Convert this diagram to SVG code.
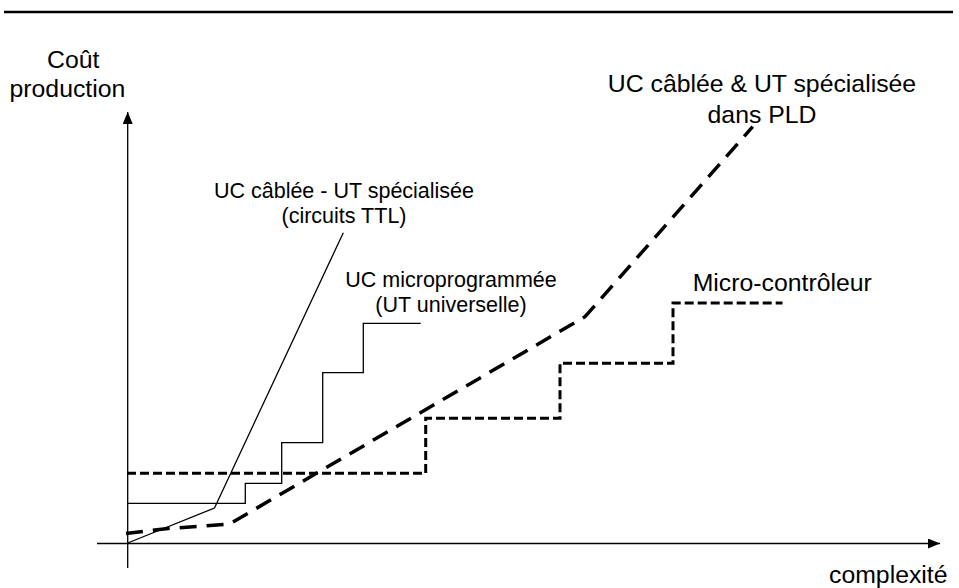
<svg xmlns="http://www.w3.org/2000/svg" width="959" height="588" viewBox="0 0 959 588">
<style>
  text { font-family: "Liberation Sans", Arial, sans-serif; fill: #000; }
  .big { font-size: 24.8px; }
  .small { font-size: 21.5px; }
  .axis { stroke: #000; stroke-width: 1.3; fill: none; }
  .thin { stroke: #000; stroke-width: 1.3; fill: none; }
  .pld { stroke: #000; stroke-width: 3.5; fill: none; stroke-dasharray: 17 10; }
  .mc { stroke: #000; stroke-width: 3; fill: none; stroke-dasharray: 9 4; }
</style>
<defs>
  <marker id="arr" markerWidth="12" markerHeight="10" refX="12" refY="5" orient="auto" markerUnits="userSpaceOnUse">
    <path d="M0,0 L12,5 L0,10 Z" fill="#000"/>
  </marker>
</defs>
<rect x="0" y="0" width="959" height="588" fill="#fff"/>
<line x1="4" y1="12" x2="953" y2="12" stroke="#000" stroke-width="2.5"/>

<g id="axes">
  <line class="axis" x1="127.7" y1="568" x2="127.7" y2="112" marker-end="url(#arr)"/>
  <line class="axis" x1="97" y1="543.5" x2="940" y2="543.5" marker-end="url(#arr)"/>
  <text class="big" x="47" y="68">Coût</text>
  <text class="big" x="9.5" y="97">production</text>
  <text class="big" x="829" y="583">complexité</text>
</g>

<g id="curves">
  <polyline id="ttl-line" class="thin" points="127.7,543 214.5,508 343.3,232.7"/>
  <polyline id="micro-line" class="thin" points="127.7,503.3 245.3,503.3 245.3,483.3 281.7,483.3 281.7,442.7 322.7,442.7 322.7,372.7 363.3,372.7 363.3,323.3 420.7,323.3"/>
  <polyline id="pld-line" class="pld" points="126,533.5 168,528.5 229.5,524 585,316.7 752.7,126.7"/>
  <polyline id="mc-line" class="mc" points="127,473.3 425.7,473.3 425.7,418.3 560,418.3 560,363.3 673,363.3 673,303 782.5,303"/>
</g>

<g id="label-ttl">
  <text class="small" x="344" y="197.5" text-anchor="middle">UC câblée - UT spécialisée</text>
  <text class="small" x="344" y="222.5" text-anchor="middle">(circuits TTL)</text>
</g>
<g id="label-micro">
  <text class="small" x="451" y="286.7" text-anchor="middle">UC microprogrammée</text>
  <text class="small" x="451" y="311.5" text-anchor="middle">(UT universelle)</text>
</g>
<g id="label-pld">
  <text class="big" x="762" y="91.7" text-anchor="middle">UC câblée &amp; UT spécialisée</text>
  <text class="big" x="762" y="123" text-anchor="middle">dans PLD</text>
</g>
<g id="label-mc">
  <text class="big" x="692.7" y="291">Micro-contrôleur</text>
</g>
</svg>
